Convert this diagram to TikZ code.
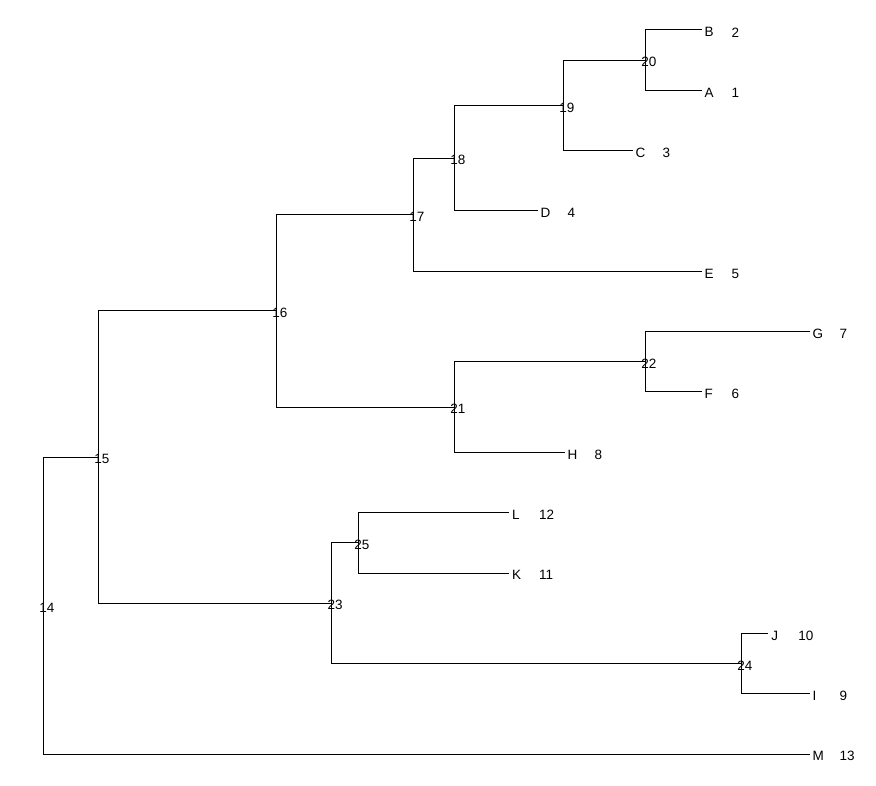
\documentclass[tikz,border=0pt]{standalone}
\usepackage{fontspec}
\setmainfont{Liberation Sans}
\begin{document}
\begin{tikzpicture}[x=1pt,y=-1pt,
  branch/.style={draw=black,line width=1pt,line cap=rect},
  tiplab/.style={anchor=west,inner sep=0pt,font=\fontsize{13.5}{15}\selectfont,yshift=-2.3pt},
  numlab/.style={anchor=west,inner sep=0pt,font=\fontsize{13.5}{15}\selectfont,yshift=-2.3pt},
  nodelab/.style={anchor=center,inner sep=0pt,font=\fontsize{13.5}{15}\selectfont,xshift=3.5pt,yshift=-2pt}]
\useasboundingbox (0,0) rectangle (876,786);
% tips
\coordinate (B) at (701,30);
\coordinate (A) at (701,90.33);
\coordinate (C) at (632,150.67);
\coordinate (D) at (537,211);
\coordinate (E) at (701,271.33);
\coordinate (G) at (809,331.67);
\coordinate (F) at (701,392);
\coordinate (H) at (564,452.33);
\coordinate (L) at (508.5,512.67);
\coordinate (K) at (508.5,573);
\coordinate (J) at (767.7,633.33);
\coordinate (I) at (809,693.67);
\coordinate (M) at (809,754);
% internal nodes
\coordinate (n20) at (645.3,60.17);
\coordinate (n19) at (563.3,105.42);
\coordinate (n18) at (454.3,158.21);
\coordinate (n17) at (413.3,214.77);
\coordinate (n22) at (645.3,361.83);
\coordinate (n21) at (454.3,407.08);
\coordinate (n16) at (276.3,310.93);
\coordinate (n25) at (358.3,542.83);
\coordinate (n24) at (741.3,663.5);
\coordinate (n23) at (331.7,603.17);
\coordinate (n15) at (98.3,457.05);
\coordinate (n14) at (43.3,605.52);
% branches
\draw[branch] (B) -| (n20) |- (A);
\draw[branch] (n20) -| (n19) |- (C);
\draw[branch] (n19) -| (n18) |- (D);
\draw[branch] (n18) -| (n17) |- (E);
\draw[branch] (G) -| (n22) |- (F);
\draw[branch] (n22) -| (n21) |- (H);
\draw[branch] (n17) -| (n16) |- (n21);
\draw[branch] (L) -| (n25) |- (K);
\draw[branch] (J) -| (n24) |- (I);
\draw[branch] (n25) -| (n23) |- (n24);
\draw[branch] (n16) -| (n15) |- (n23);
\draw[branch] (n15) -| (n14) |- (M);
% tip labels
\foreach \t/\n in {B/2,A/1,C/3,D/4,E/5,G/7,F/6,H/8,L/12,K/11,J/10,I/9,M/13}{
  \node[tiplab] (t\t) at ([xshift=3.5pt]\t) {\t};
  \node[numlab] (u\t) at ([xshift=30.5pt]\t) {\n};
}
% node labels
\foreach \k in {14,15,16,17,18,19,20,21,22,23,24,25}{
  \node[nodelab] (l\k) at (n\k) {\k};
}
\end{tikzpicture}
\end{document}
